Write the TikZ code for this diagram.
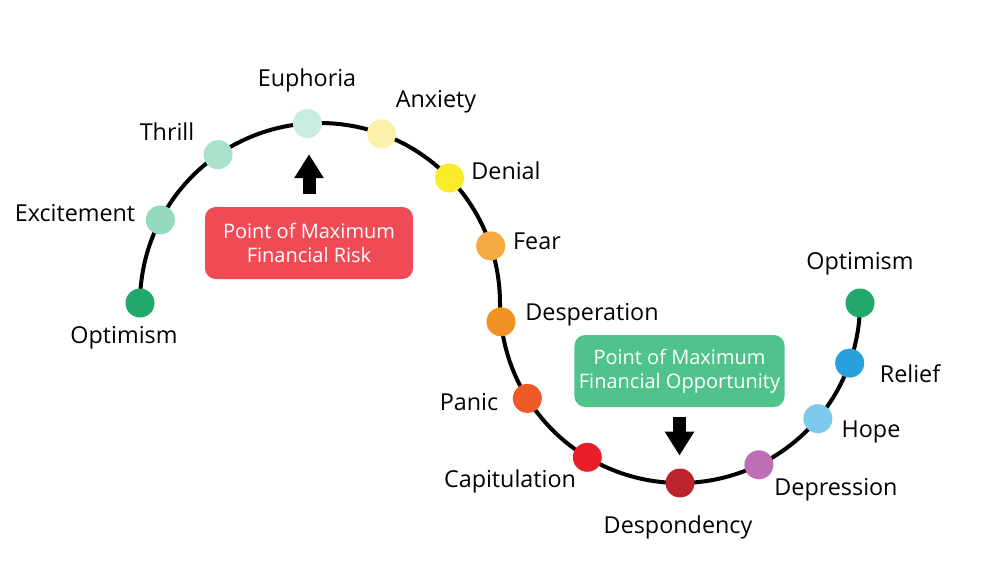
\documentclass[tikz,border=0pt]{standalone}
\usepackage{fontspec}
\setmainfont{Open Sans}
\usetikzlibrary{calc,arrows.meta}

\definecolor{optgreen}{RGB}{34,168,107}
\definecolor{excgreen}{RGB}{150,218,190}
\definecolor{thrgreen}{RGB}{170,225,202}
\definecolor{eupgreen}{RGB}{202,236,223}
\definecolor{anxyellow}{RGB}{250,240,170}
\definecolor{denyellow}{RGB}{250,235,40}
\definecolor{fearorange}{RGB}{245,170,65}
\definecolor{desorange}{RGB}{242,146,35}
\definecolor{panorange}{RGB}{238,90,40}
\definecolor{capred}{RGB}{234,30,40}
\definecolor{dspred}{RGB}{190,35,45}
\definecolor{deppurple}{RGB}{190,110,180}
\definecolor{hopeblue}{RGB}{125,200,235}
\definecolor{relblue}{RGB}{40,160,220}
\definecolor{riskred}{RGB}{240,75,85}
\definecolor{oppgreen}{RGB}{80,195,140}

\tikzset{
    stage/.style={circle, inner sep=0pt, minimum size=21.75pt},
    stagename/.style={font=\fontsize{17.5}{20}\selectfont, text=black},
    callout/.style={rounded corners=8pt, minimum height=54pt, align=center,
        text=white, font=\fontsize{15}{18}\selectfont},
    bigarrow/.style={-{Triangle[width=21pt,length=18pt]}, line width=9.75pt, black}
}

\begin{document}
\begin{tikzpicture}[x=0.75pt, y=-0.75pt]
    \useasboundingbox (0,0) rectangle (1000,562);

    \coordinate (top) at (320,303);
    \coordinate (bot) at (680,303);

    % the cycle curve
    \draw[black, line width=3pt] plot[domain=180:360, samples=100]
        ({320+180*cos(\x)}, {303+180*sin(\x)})
        -- plot[domain=180:0, samples=100]
        ({680+180*cos(\x)}, {303+180*sin(\x)});

    % rising half
    \node[stage, fill=optgreen] (opt1) at ($(top)+(180:180)$) {};
    \node[stage, fill=excgreen] (exc) at ($(top)+(207.5:180)$) {};
    \node[stage, fill=thrgreen] (thr) at ($(top)+(235.5:180)$) {};
    \node[stage, fill=eupgreen] (eup) at ($(top)+(266:180)$) {};
    \node[stage, fill=anxyellow] (anx) at ($(top)+(290:180)$) {};
    \node[stage, fill=denyellow] (den) at ($(top)+(316:180)$) {};
    \node[stage, fill=fearorange] (fear) at ($(top)+(341.5:180)$) {};

    % falling half
    \node[stage, fill=desorange] (des) at ($(bot)+(174:180)$) {};
    \node[stage, fill=panorange] (pan) at ($(bot)+(148:180)$) {};
    \node[stage, fill=capred] (cap) at ($(bot)+(121:180)$) {};
    \node[stage, fill=dspred] (dsp) at ($(bot)+(90:180)$) {};
    \node[stage, fill=deppurple] (dep) at ($(bot)+(64:180)$) {};
    \node[stage, fill=hopeblue] (hope) at ($(bot)+(40:180)$) {};
    \node[stage, fill=relblue] (rel) at ($(bot)+(19.5:180)$) {};
    \node[stage, fill=optgreen] (opt2) at ($(bot)+(0:180)$) {};

    % stage names
    \node[stagename] (opt1name) at (124,338) {Optimism};
    \node[stagename] (excname) at (75,213) {Excitement};
    \node[stagename] (thrname) at (167,132) {Thrill};
    \node[stagename] (eupname) at (307,80) {Euphoria};
    \node[stagename] (anxname) at (436,102) {Anxiety};
    \node[stagename] (denname) at (506,171) {Denial};
    \node[stagename] (fearname) at (537,241) {Fear};
    \node[stagename] (desname) at (592,315) {Desperation};
    \node[stagename] (panname) at (469,402) {Panic};
    \node[stagename] (capname) at (510,481) {Capitulation};
    \node[stagename] (dspname) at (678,527) {Despondency};
    \node[stagename] (depname) at (836,490) {Depression};
    \node[stagename] (hopename) at (871,432) {Hope};
    \node[stagename] (relname) at (910,374) {Relief};
    \node[stagename] (opt2name) at (860,264) {Optimism};

    % call-outs
    \node[callout, fill=riskred, minimum width=156pt] (risk) at (309,243)
        {Point of Maximum\\Financial Risk};
    \node[callout, fill=oppgreen, minimum width=156.75pt] (opp) at (679.5,371)
        {Point of Maximum\\Financial Opportunity};

    \draw[bigarrow] ([yshift=9.75pt]risk.north) -- ([yshift=-12pt]risk.north |- eup.south);
    \draw[bigarrow] ([yshift=-7.5pt]opp.south) -- ([yshift=9.5pt]opp.south |- dsp.north);

\end{tikzpicture}
\end{document}
